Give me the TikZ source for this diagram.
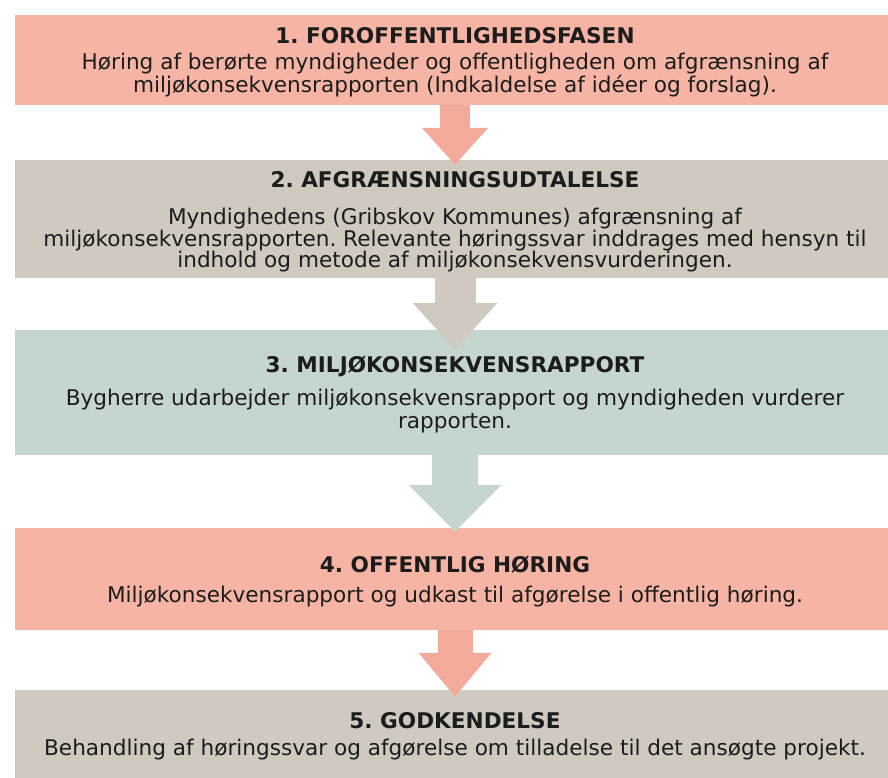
\documentclass[tikz,border=0pt]{standalone}
\usepackage{fontspec}
\setmainfont{DejaVu Sans}
\usetikzlibrary{arrows.meta}

\definecolor{laks}{RGB}{246,180,165}
\definecolor{laksdark}{RGB}{243,170,154}
\definecolor{graabrun}{RGB}{208,201,191}
\definecolor{graagroen}{RGB}{197,214,207}
\definecolor{tekst}{RGB}{28,28,28}

\begin{document}
\frenchspacing
\begin{tikzpicture}[x=1pt,y=-1pt,
  fase/.style={minimum width=880pt,inner sep=0pt,align=center,text=tekst,
    text depth=0pt,font=\fontsize{21.6}{23}\selectfont},
  pil/.style n args={3}{line width=#1,-{Triangle[width=#2,length=#3]}}]
  \clip (0,0) rectangle (888,778);
  % de fem faser
  \node[fase,fill=laks,minimum height=90pt] (f1) at (455,60)
    {\textbf{1. FOROFFENTLIGHEDSFASEN}\\[3pt]
     Høring af berørte myndigheder og offentligheden om afgrænsning af\\
     miljøkonsekvensrapporten (Indkaldelse af idéer og forslag).};
  \node[fase,fill=graabrun,minimum height=118pt] (f2) at (455,219)
    {\textbf{2. AFGRÆNSNINGSUDTALELSE}\\[14pt]
     Myndighedens (Gribskov Kommunes) afgrænsning af\\[-1pt]
     miljøkonsekvensrapporten. Relevante høringssvar inddrages med hensyn til\\[-2pt]
     indhold og metode af miljøkonsekvensvurderingen.};
  \node[fase,fill=graagroen,minimum height=125pt] (f3) at (455,392.5)
    {\textbf{3. MILJØKONSEKVENSRAPPORT}\\[10pt]
     Bygherre udarbejder miljøkonsekvensrapport og myndigheden vurderer\\
     rapporten.};
  \node[fase,fill=laks,minimum height=102pt] (f4) at (455,579)
    {\textbf{4. OFFENTLIG HØRING}\\[7pt]
     Miljøkonsekvensrapport og udkast til afgørelse i offentlig høring.};
  \node[fase,fill=graabrun,minimum height=88pt] (f5) at (455,734)
    {\textbf{5. GODKENDELSE}\\[4pt]
     Behandling af høringssvar og afgørelse om tilladelse til det ansøgte projekt.};
  % pile mellem faserne
  \draw[pil={30pt}{64pt}{37pt},laksdark] (f1.south) -- ([yshift=-5pt]f2.north);
  \draw[pil={41pt}{82pt}{47pt},graabrun] (f2.south) -- ([yshift=-20pt]f3.north);
  \draw[pil={46pt}{90pt}{47pt},graagroen] (f3.south) -- ([yshift=-4pt]f4.north);
  \draw[pil={35pt}{70pt}{44pt},laksdark] (f4.south) -- ([yshift=-7pt]f5.north);
\end{tikzpicture}
\end{document}
